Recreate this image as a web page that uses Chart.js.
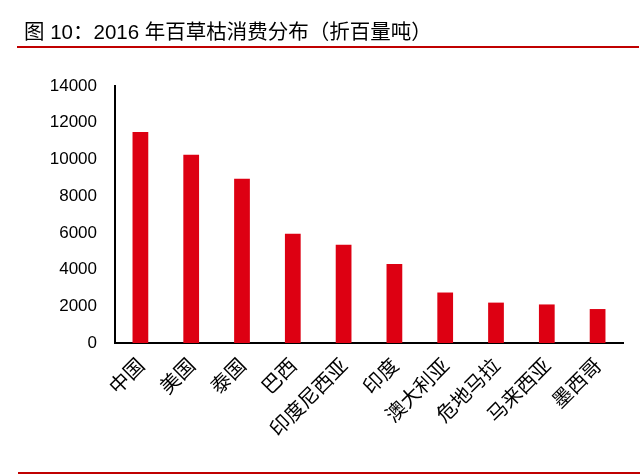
<!DOCTYPE html>
<html>
<head>
<meta charset="utf-8">
<script src="https://cdn.jsdelivr.net/npm/chart.js@4/dist/chart.umd.min.js"></script>
<style>
  html, body { margin: 0; padding: 0; background: #fff; }
  #wrap { position: relative; width: 640px; height: 475px; overflow: hidden; }
  #title { position: absolute; left: 24px; top: 22px; line-height: 20px; font-family: "Liberation Sans", "Noto Sans CJK SC", sans-serif; font-size: 20.5px; color: #000; white-space: nowrap; }
  .rule { position: absolute; height: 2px; background: #C00000; }
  #c { position: absolute; left: 0; top: 0; }
</style>
</head>
<body>
<div id="wrap">
  <canvas id="c" width="640" height="475"></canvas>
  <div id="title">图 10：2016 年百草枯消费分布（折百量吨）</div>
  <div class="rule" style="left:17px; top:46px; width:622px;"></div>
  <div class="rule" style="left:18px; top:472px; width:622px;"></div>
</div>
<script>
const categories = ["中国", "美国", "泰国", "巴西", "印度尼西亚", "印度", "澳大利亚", "危地马拉", "马来西亚", "墨西哥"];
const consumption = [11500, 10250, 8950, 5950, 5350, 4300, 2750, 2200, 2100, 1850];
const yTicks = [0, 2000, 4000, 6000, 8000, 10000, 12000, 14000];

new Chart(document.getElementById('c'), {
  type: 'bar',
  data: {
    labels: categories,
    datasets: [{
      data: consumption,
      backgroundColor: '#DD0012',
      borderWidth: 0,
      barPercentage: 0.31,
      categoryPercentage: 1.0
    }]
  },
  options: {
    responsive: false,
    animation: false,
    devicePixelRatio: 1,
    layout: { padding: { left: 0, top: 86, right: 17, bottom: 0 } },
    plugins: { legend: { display: false }, tooltip: { enabled: false }, title: { display: false } },
    scales: {
      x: {
        grid: { display: false, drawTicks: false },
        border: { display: true, color: '#000', width: 2 },
        ticks: {
          color: '#000',
          font: { family: '"Noto Sans CJK SC", sans-serif', size: 20 },
          maxRotation: 45, minRotation: 45, autoSkip: false, padding: 10
        },
        afterFit: s => { s.height = 132; }
      },
      y: {
        min: 0, max: 14000,
        afterBuildTicks: s => { s.ticks = yTicks.map(v => ({ value: v })); },
        grid: { display: false, drawTicks: false },
        border: { display: true, color: '#000', width: 2 },
        ticks: {
          color: '#000',
          font: { family: '"Liberation Sans", Arial, sans-serif', size: 17 },
          padding: 18,
          callback: v => String(v)
        },
        afterFit: s => { s.width = 115; }
      }
    }
  }
});
</script>
</body>
</html>
